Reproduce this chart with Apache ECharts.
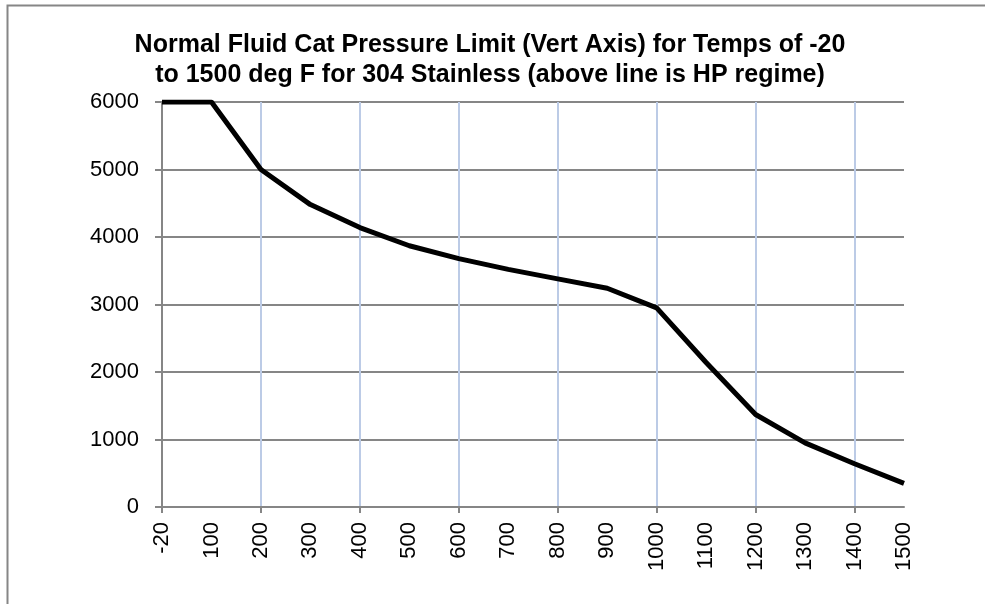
<!DOCTYPE html>
<html>
<head>
<meta charset="utf-8">
<script src="https://cdn.jsdelivr.net/npm/echarts@6/dist/echarts.min.js"></script>
<style>
  html, body { margin: 0; padding: 0; background: #fff; }
  #chart { width: 985px; height: 604px; }
</style>
</head>
<body>
<div id="chart"></div>
<script>
// 温度 (deg F)
var temps = ['-20', '100', '200', '300', '400', '500', '600', '700', '800', '900', '1000', '1100', '1200', '1300', '1400', '1500'];
// pressure limit
var pressure = [6000, 6000, 5000, 4480, 4140, 3870, 3680, 3520, 3380, 3240, 2950, 2140, 1370, 950, 640, 350];
var yTicks = [0, 1000, 2000, 3000, 4000, 5000, 6000];

// 每隔一个分类画刻度和网格线
function everyOther(index) {
  return index % 2 === 0 && index < temps.length - 1;
}

var chart = echarts.init(document.getElementById('chart'));
chart.setOption({
  animation: false,
  title: {
    text: 'Normal Fluid Cat Pressure Limit (Vert Axis) for Temps of -20\nto 1500 deg F for 304 Stainless (above line is HP regime)',
    left: 485,
    top: 25,
    textAlign: 'center',
    textStyle: {
      fontFamily: 'Liberation Sans, Arial',
      fontSize: 25,
      fontWeight: 'bold',
      color: '#000',
      lineHeight: 30
    }
  },
  graphic: [{
    type: 'rect',
    shape: { x: 7.5, y: 5.5, width: 1100, height: 700 },
    style: { fill: 'none', stroke: '#868686', lineWidth: 2 },
    silent: true
  }],
  grid: {
    left: 162,
    right: 81,
    top: 102,
    bottom: 97
  },
  xAxis: {
    type: 'category',
    data: temps,
    boundaryGap: false,
    axisLine: { lineStyle: { color: '#868686', width: 2 } },
    axisTick: { show: true, interval: everyOther, length: 6, lineStyle: { color: '#868686', width: 2 } },
    axisLabel: {
      interval: 0,
      rotate: 90,
      margin: 15,
      fontFamily: 'Liberation Sans, Arial',
      fontSize: 22,
      color: '#000'
    },
    splitLine: {
      show: true,
      interval: everyOther,
      lineStyle: { color: '#bccbe6', width: 2 }
    }
  },
  yAxis: {
    type: 'value',
    min: yTicks[0],
    max: yTicks[yTicks.length - 1],
    interval: 1000,
    axisLine: { show: true, lineStyle: { color: '#868686', width: 2 } },
    axisTick: { show: true, length: 7, lineStyle: { color: '#868686', width: 2 } },
    axisLabel: {
      margin: 23,
      fontFamily: 'Liberation Sans, Arial',
      fontSize: 22,
      color: '#000',
      formatter: function (v) { return String(v); }
    },
    splitLine: { lineStyle: { color: '#868686', width: 2 } }
  },
  series: [{
    type: 'line',
    data: pressure,
    symbol: 'none',
    lineStyle: { color: '#000', width: 5 },
    z: 5
  }]
});
</script>
</body>
</html>
